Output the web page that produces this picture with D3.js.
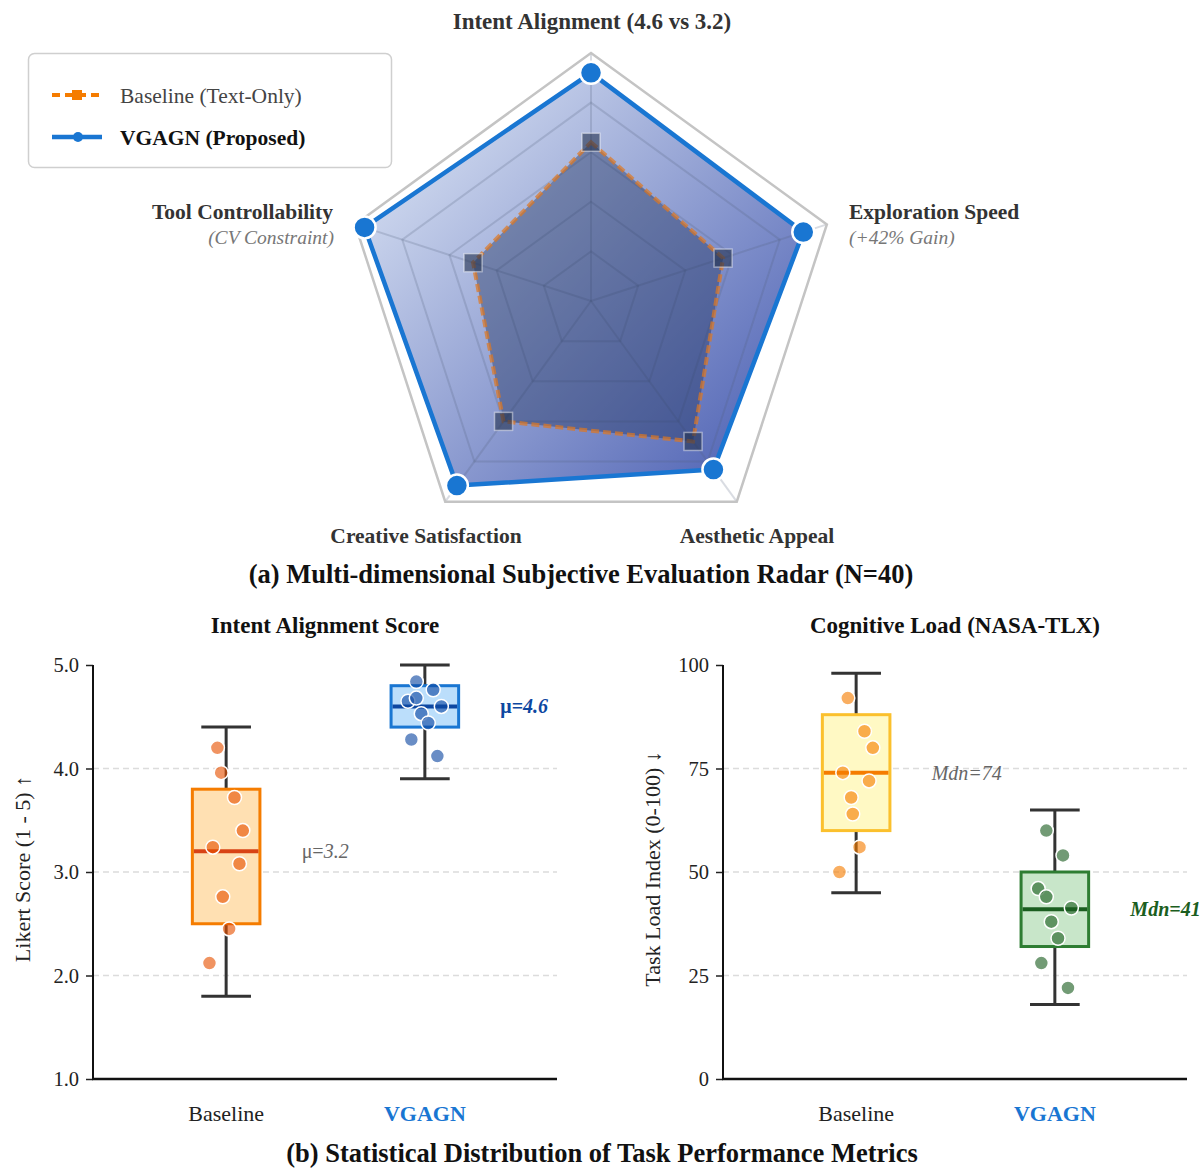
<!DOCTYPE html>
<html>
<head>
<meta charset="utf-8">
<script src="https://cdn.jsdelivr.net/npm/d3@7"></script>
<style>
  html, body { margin: 0; padding: 0; background: #fff; }
  svg { display: block; font-family: "Liberation Serif", "Times New Roman", serif; }
</style>
</head>
<body>
<svg id="chart" width="1200" height="1169"></svg>
<script>
// ---- Radar data (scores on a 0-5 scale) ----
const radarAxes = ["Intent Alignment", "Exploration Speed", "Aesthetic Appeal", "Creative Satisfaction", "Tool Controllability"];
const baselineRadar = [3.2, 2.8, 3.5, 3.0, 2.5];
const vgagnRadar = [4.6, 4.5, 4.2, 4.6, 4.8];
const radarRings = [1, 2, 3, 4];
const radarMax = 5;

// ---- Box plot data ----
const groups = ["Baseline", "VGAGN"];

// Intent alignment (Likert 1-5): [whiskerLow, q1, median, q3, whiskerHigh]
const likertStats = [[1.8, 2.5, 3.2, 3.8, 4.4], [3.9, 4.4, 4.6, 4.8, 5.0]];
const likertBaseline = [4.20, 3.96, 3.72, 3.40, 3.24, 3.08, 2.76, 2.45, 2.12];
const likertVgagn = [4.84, 4.76, 4.65, 4.68, 4.60, 4.53, 4.44, 4.28, 4.12];
const likertJitterBaseline = [-0.044, -0.025, 0.042, 0.084, -0.067, 0.067, -0.017, 0.015, -0.084];
const likertJitterVgagn = [-0.043, 0.042, -0.085, -0.043, 0.083, -0.018, 0.017, -0.068, 0.063];
const likertTicks = [1, 2, 3, 4, 5];

// Cognitive load (NASA-TLX 0-100)
const tlxStats = [[45, 60, 74, 88, 98], [18, 32, 41, 50, 65]];
const tlxBaseline = [92, 84, 80, 74, 72, 68, 64, 56, 50];
const tlxVgagn = [60, 54, 46, 44, 41.3, 38, 34, 28, 22];
const tlxJitterBaseline = [-0.042, 0.042, 0.084, -0.067, 0.065, -0.025, -0.017, 0.017, -0.084];
const tlxJitterVgagn = [-0.043, 0.041, -0.084, -0.043, 0.083, -0.018, 0.016, -0.068, 0.066];
const tlxTicks = [0, 25, 50, 75, 100];

const svg = d3.select("#chart");
const SERIF = "'Liberation Serif', 'Times New Roman', serif";

// ================= Panel (a): radar =================
const cx = 591, cy = 301, R = 248;
const rScale = d3.scaleLinear().domain([0, radarMax]).range([0, R]);
const angle = i => i * 2 * Math.PI / radarAxes.length;
const pt = (i, v) => {
  const a = angle(i) - Math.PI / 2;
  return [cx + rScale(v) * Math.cos(a), cy + rScale(v) * Math.sin(a)];
};
const radial = d3.lineRadial().angle((d, i) => angle(i)).radius(d => rScale(d)).curve(d3.curveLinearClosed);

const defs = svg.append("defs");
// gradient coordinates are in the radar group's (centred) space
const grad = defs.append("linearGradient").attr("id", "vgagnFill")
  .attr("gradientUnits", "userSpaceOnUse")
  .attr("x1", -235).attr("y1", -235).attr("x2", 235).attr("y2", 215);
grad.append("stop").attr("offset", "0%").attr("stop-color", "#e8f0fa");
grad.append("stop").attr("offset", "100%").attr("stop-color", "#3b50ab");

const radar = svg.append("g").attr("transform", `translate(${cx},${cy})`);

// proposed-method area
radar.append("path").attr("d", radial(vgagnRadar)).attr("fill", "url(#vgagnFill)");

// grid rings and spokes
radarRings.forEach(r => {
  radar.append("path").attr("d", radial(radarAxes.map(() => r)))
    .attr("fill", "none").attr("stroke", "rgb(80,95,125)").attr("stroke-opacity", 0.22).attr("stroke-width", 2);
});
radarAxes.forEach((a, i) => {
  const [x, y] = pt(i, radarMax);
  radar.append("line").attr("x1", 0).attr("y1", 0).attr("x2", x - cx).attr("y2", y - cy)
    .attr("stroke", "rgb(80,95,125)").attr("stroke-opacity", 0.22).attr("stroke-width", 2);
});
radar.append("path").attr("d", radial(radarAxes.map(() => radarMax)))
  .attr("fill", "none").attr("stroke", "#c4c4c4").attr("stroke-width", 2.5);

// baseline area
radar.append("path").attr("d", radial(baselineRadar))
  .attr("fill", "rgb(30,50,95)").attr("fill-opacity", 0.42);
radar.append("path").attr("d", radial(baselineRadar))
  .attr("fill", "none").attr("stroke", "#e07820").attr("stroke-opacity", 0.7)
  .attr("stroke-width", 4).attr("stroke-dasharray", "8,4");
baselineRadar.forEach((v, i) => {
  const [x, y] = pt(i, v);
  svg.append("rect").attr("x", x - 9).attr("y", y - 9).attr("width", 18).attr("height", 18)
    .attr("fill", "rgb(35,50,80)").attr("fill-opacity", 0.6)
    .attr("stroke", "#ffffff").attr("stroke-opacity", 0.45).attr("stroke-width", 1.5);
});

// proposed outline and markers
radar.append("path").attr("d", radial(vgagnRadar))
  .attr("fill", "none").attr("stroke", "#1976d2").attr("stroke-width", 4.5).attr("stroke-linejoin", "round");
vgagnRadar.forEach((v, i) => {
  const [x, y] = pt(i, v);
  svg.append("circle").attr("cx", x).attr("cy", y).attr("r", 11)
    .attr("fill", "#1976d2").attr("stroke", "#fff").attr("stroke-width", 2.5);
});

// text helper
function label(x, y, txt, opts) {
  const t = svg.append("text").attr("x", x).attr("y", y).text(txt)
    .attr("font-family", SERIF).attr("font-size", opts.size || 21.5)
    .attr("fill", opts.color || "#333").attr("text-anchor", opts.anchor || "middle");
  if (opts.bold) t.attr("font-weight", "bold");
  if (opts.italic) t.attr("font-style", "italic");
  return t;
}
label(592, 29, "Intent Alignment (4.6 vs 3.2)", { bold: true, size: 23 });
label(849, 219, "Exploration Speed", { bold: true, anchor: "start" });
label(849, 244, "(+42% Gain)", { italic: true, anchor: "start", color: "#777", size: 19.5 });
label(333, 219, "Tool Controllability", { bold: true, anchor: "end" });
label(334, 244, "(CV Constraint)", { italic: true, anchor: "end", color: "#777", size: 19.5 });
label(426, 543, "Creative Satisfaction", { bold: true });
label(757, 543, "Aesthetic Appeal", { bold: true });
label(581, 583, "(a) Multi-dimensional Subjective Evaluation Radar (N=40)", { bold: true, size: 26.5, color: "#111" });

// legend
const lg = svg.append("g");
lg.append("rect").attr("x", 28.5).attr("y", 53.5).attr("width", 363).attr("height", 114).attr("rx", 6)
  .attr("fill", "#fff").attr("stroke", "#cfcfcf").attr("stroke-width", 1.5);
lg.append("line").attr("x1", 52).attr("x2", 100).attr("y1", 95).attr("y2", 95)
  .attr("stroke", "#f57c00").attr("stroke-width", 4).attr("stroke-dasharray", "8,5");
lg.append("rect").attr("x", 72).attr("y", 90).attr("width", 10).attr("height", 10).attr("fill", "#f57c00");
lg.append("line").attr("x1", 52).attr("x2", 102).attr("y1", 137).attr("y2", 137)
  .attr("stroke", "#1976d2").attr("stroke-width", 4.5);
lg.append("circle").attr("cx", 78).attr("cy", 137).attr("r", 5).attr("fill", "#1976d2");
label(120, 103, "Baseline (Text-Only)", { anchor: "start", color: "#444" });
label(120, 145, "VGAGN (Proposed)", { anchor: "start", bold: true, color: "#111" });

// ================= Panel (b): box plots =================
function boxPanel(cfg) {
  const x = d3.scaleLinear().domain([-0.67, 1.665]).range([cfg.left, cfg.right]);
  const y = d3.scaleLinear().domain(cfg.domain).range([1079, 665]);
  const g = svg.append("g");

  // dashed grid on inner ticks
  cfg.ticks.slice(1, -1).forEach(t => {
    g.append("line").attr("x1", cfg.left).attr("x2", cfg.right).attr("y1", y(t)).attr("y2", y(t))
      .attr("stroke", "#dcdcdc").attr("stroke-width", 1.3).attr("stroke-dasharray", "6,4");
  });

  // y axis
  const ya = g.append("g").attr("transform", `translate(${cfg.left},0)`)
    .call(d3.axisLeft(y).tickValues(cfg.ticks).tickFormat(cfg.fmt).tickSize(7).tickPadding(7));
  ya.select(".domain").remove();
  ya.selectAll(".tick line").attr("stroke", "#222").attr("stroke-width", 1.5);
  ya.selectAll(".tick text").attr("font-family", SERIF).attr("font-size", 20.5).attr("fill", "#222");

  // spines
  g.append("line").attr("x1", cfg.left).attr("x2", cfg.left).attr("y1", 665).attr("y2", 1079)
    .attr("stroke", "#111").attr("stroke-width", 2);
  g.append("line").attr("x1", cfg.left - 1).attr("x2", cfg.right).attr("y1", 1079).attr("y2", 1079)
    .attr("stroke", "#111").attr("stroke-width", 2.5);

  // x category labels
  groups.forEach((name, i) => {
    const t = label(x(i), 1121, name, { size: 22, color: i === 1 ? "#1976d2" : "#222" });
    if (i === 1) t.attr("font-weight", "bold");
  });

  const bw = 0.34, cw = 0.25;
  cfg.stats.forEach((s, i) => {
    const st = cfg.styles[i];
    const [lo, q1, md, q3, hi] = s;
    // whiskers and caps
    g.append("line").attr("x1", x(i)).attr("x2", x(i)).attr("y1", y(hi)).attr("y2", y(q3))
      .attr("stroke", "#333").attr("stroke-width", 3);
    g.append("line").attr("x1", x(i)).attr("x2", x(i)).attr("y1", y(q1)).attr("y2", y(lo))
      .attr("stroke", "#333").attr("stroke-width", 3);
    [lo, hi].forEach(v => {
      g.append("line").attr("x1", x(i - cw / 2)).attr("x2", x(i + cw / 2)).attr("y1", y(v)).attr("y2", y(v))
        .attr("stroke", "#333").attr("stroke-width", 3);
    });
    // box
    g.append("rect").attr("x", x(i - bw / 2)).attr("y", y(q3))
      .attr("width", x(i + bw / 2) - x(i - bw / 2)).attr("height", y(q1) - y(q3))
      .attr("fill", st.fill).attr("stroke", st.edge).attr("stroke-width", 3);
    g.append("line").attr("x1", x(i - bw / 2) + 1.5).attr("x2", x(i + bw / 2) - 1.5)
      .attr("y1", y(md)).attr("y2", y(md)).attr("stroke", st.median).attr("stroke-width", 4);
    // individual observations
    cfg.points[i].forEach((v, k) => {
      g.append("circle").attr("cx", x(i + cfg.jitter[i][k])).attr("cy", y(v)).attr("r", 7)
        .attr("fill", st.point).attr("fill-opacity", 0.62)
        .attr("stroke", "#fff").attr("stroke-width", 1.5);
    });
    // annotation next to the median
    const note = g.append("text").attr("x", x(i + 0.38)).attr("y", y(md)).attr("dy", "0.35em")
      .attr("font-family", SERIF).attr("font-size", 20).attr("fill", st.noteColor);
    note.append("tspan").attr("font-style", cfg.prefixItalic ? "italic" : "normal")
      .attr("font-weight", i === 1 ? "bold" : "normal").text(cfg.prefix);
    note.append("tspan").attr("font-style", "italic").attr("font-weight", i === 1 ? "bold" : "normal")
      .text(cfg.noteFmt(md));
  });

  // titles
  label((cfg.left + cfg.right) / 2, 633, cfg.title, { bold: true, size: 23, color: "#111" });
  svg.append("text").attr("transform", `translate(${cfg.ylabX},869) rotate(-90)`)
    .attr("text-anchor", "middle").attr("font-family", SERIF).attr("font-size", 22).attr("fill", "#222")
    .text(cfg.ylabel);
}

boxPanel({
  left: 93, right: 557, domain: [1, 5], ticks: likertTicks, fmt: d3.format(".1f"),
  stats: likertStats, points: [likertBaseline, likertVgagn],
  jitter: [likertJitterBaseline, likertJitterVgagn],
  styles: [
    { fill: "#ffe0b2", edge: "#f57c00", median: "#d84315", point: "#e65100", noteColor: "#666" },
    { fill: "#bbdefb", edge: "#1976d2", median: "#0d47a1", point: "#0d47a1", noteColor: "#0d47a1" }
  ],
  prefix: "μ=", prefixItalic: false, noteFmt: d3.format(".1f"),
  title: "Intent Alignment Score", ylabel: "Likert Score (1 - 5) ↑", ylabX: 30
});

boxPanel({
  left: 723, right: 1187, domain: [0, 100], ticks: tlxTicks, fmt: d3.format("d"),
  stats: tlxStats, points: [tlxBaseline, tlxVgagn],
  jitter: [tlxJitterBaseline, tlxJitterVgagn],
  styles: [
    { fill: "#fff9c4", edge: "#fbc02d", median: "#f57c00", point: "#f57c00", noteColor: "#666" },
    { fill: "#c8e6c9", edge: "#2e7d32", median: "#1b5e20", point: "#1b5e20", noteColor: "#1b5e20" }
  ],
  prefix: "Mdn=", prefixItalic: true, noteFmt: d3.format("d"),
  title: "Cognitive Load (NASA-TLX)", ylabel: "Task Load Index (0-100) ↓", ylabX: 660
});

label(602, 1162, "(b) Statistical Distribution of Task Performance Metrics", { bold: true, size: 26.5, color: "#111" });
</script>
</body>
</html>
